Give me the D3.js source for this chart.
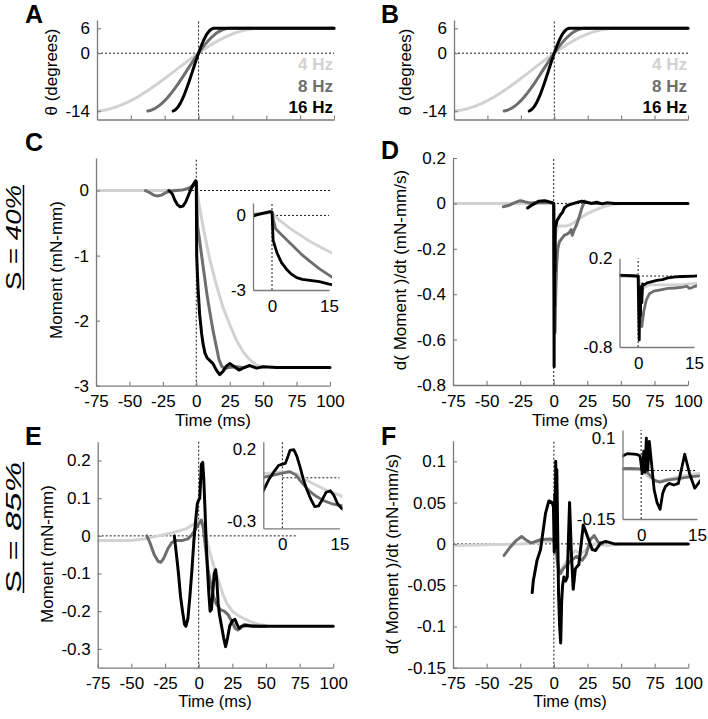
<!DOCTYPE html>
<html><head><meta charset="utf-8">
<script src="https://cdn.jsdelivr.net/npm/d3@7"></script>
<style>body{margin:0;background:#fff}</style>
</head><body><svg id="chart" width="708" height="719"></svg>
<script>
// ---------------- DATA ----------------
const freqLabels = ["4 Hz", "8 Hz", "16 Hz"];
const timeTicks = [-75, -50, -25, 0, 25, 50, 75, 100];
const insetTimeTicks = [0, 15];
const thetaTicks = [6, 0, -14];
const momentTicks40 = [0, -1, -2, -3];
const dMomentTicks40 = [0.2, 0, -0.2, -0.4, -0.6, -0.8];
const momentTicks85 = [0.2, 0.1, 0, -0.1, -0.2, -0.3];
const dMomentTicks85 = [0.1, 0.05, 0, -0.05, -0.1, -0.15];
const insetTicksC = [0, -3];
const insetTicksD = [0.2, -0.8];
const insetTicksE = [0.2, -0.3];
const insetTicksF = [0.1, -0.15];
const panelLetters = ["A", "B", "C", "D", "E", "F"];
const rowLabels = [["S = ", "40%"], ["S = ", "85%"]];

// joint angle θ (degrees) vs time (ms)
const theta4 = [[-75,-13.95],[-70,-13.75],[-65,-13.39],[-60,-12.88],[-55,-12.24],[-50,-11.46],[-45,-10.57],[-40,-9.57],[-35,-8.48],[-30,-7.33],[-25,-6.12],[-20,-4.88],[-15,-3.62],[-10,-2.38],[-5,-1.15],[0,0.02],[5,1.14],[10,2.18],[15,3.12],[20,3.95],[25,4.66],[30,5.2],[35,5.62],[40,5.89],[45,6],[100,6]];
const theta8 = [[-37.5,-13.95],[-35,-13.75],[-32.5,-13.39],[-30,-12.88],[-27.5,-12.24],[-25,-11.46],[-22.5,-10.57],[-20,-9.57],[-17.5,-8.48],[-15,-7.33],[-12.5,-6.12],[-10,-4.88],[-7.5,-3.62],[-5,-2.38],[-2.5,-1.15],[0,0.02],[2.5,1.14],[5,2.18],[7.5,3.12],[10,3.95],[12.5,4.66],[15,5.2],[17.5,5.62],[20,5.89],[22.5,6],[100,6]];
const theta16 = [[-18.75,-13.95],[-17.5,-13.75],[-16.25,-13.39],[-15,-12.88],[-13.75,-12.24],[-12.5,-11.46],[-11.25,-10.57],[-10,-9.57],[-8.75,-8.48],[-7.5,-7.33],[-6.25,-6.12],[-5,-4.88],[-3.75,-3.62],[-2.5,-2.38],[-1.25,-1.15],[0,0.02],[1.25,1.14],[2.5,2.18],[3.75,3.12],[5,3.95],[6.25,4.66],[7.5,5.2],[8.75,5.62],[10,5.89],[11.25,6],[100,6]];

// S = 40% : moment (mN-mm)
const moment40_4 = [[-75,0],[-50,0],[-25,0],[-10,0.01],[-3,0.05],[0,0.12],[1,-0.05],[2,-0.2],[5,-0.55],[10,-1.05],[15,-1.45],[20,-1.8],[25,-2.06],[30,-2.3],[35,-2.48],[40,-2.6],[45,-2.68],[50,-2.71]];
const moment40_8 = [[-38,0],[-35,-0.03],[-32,-0.07],[-29,-0.085],[-26,-0.07],[-23,-0.035],[-20,-0.01],[-15,0],[-10,0.01],[-5,0.04],[-2,0.09],[0,0.14],[0.4,-0.2],[1,-0.55],[3,-0.85],[5,-1.15],[8,-1.6],[10,-1.85],[12.5,-2.15],[15,-2.4],[17,-2.6],[19,-2.7],[21,-2.74],[24,-2.72],[30,-2.71],[35,-2.72]];
const moment40_16 = [[-20.5,0],[-18,-0.05],[-16,-0.15],[-14,-0.22],[-12,-0.25],[-10,-0.24],[-8,-0.18],[-6,-0.08],[-4,0.02],[-2,0.1],[-0.5,0.15],[0,0.13],[0.3,-1.0],[1.3,-1.5],[2.5,-1.9],[4,-2.2],[5,-2.35],[6.5,-2.5],[8,-2.57],[10,-2.61],[12.5,-2.66],[15,-2.76],[17.5,-2.83],[20,-2.78],[22.5,-2.7],[25,-2.66],[28,-2.7],[32,-2.76],[36,-2.72],[40,-2.69],[45,-2.73],[50,-2.71],[60,-2.72],[100,-2.72]];

// S = 40% : d(moment)/dt (mN-mm/s)
const dMoment40_4 = [[-75,0],[-50,0],[-25,0],[-10,0.002],[-2,0.003],[0,0],[0.5,-0.08],[1,-0.15],[2,-0.12],[3,-0.1],[5,-0.1],[8,-0.1],[10,-0.098],[12,-0.095],[15,-0.085],[18,-0.072],[21,-0.06],[25,-0.045],[30,-0.032],[35,-0.02],[40,-0.01],[45,-0.003],[50,0]];
const dMoment40_8 = [[-37.5,-0.015],[-33,-0.008],[-29,0.003],[-25,0.012],[-22,0.008],[-18,0.002],[-10,0.003],[-3,0.003],[0,0],[0.4,-0.3],[1,-0.57],[1.5,-0.4],[2.2,-0.27],[3,-0.2],[4.2,-0.17],[6,-0.155],[8,-0.14],[10,-0.135],[12,-0.125],[13,-0.115],[13.8,-0.14],[15,-0.12],[17,-0.095],[19,-0.06],[21,-0.02],[23,0.01],[25,0.005],[28,0],[35,0]];
const dMoment40_16 = [[-19.5,-0.02],[-17,-0.01],[-14,0],[-11,0.01],[-7,0.012],[-4,0.008],[-1,0.003],[0,0],[0.15,-0.4],[0.3,-0.72],[0.45,-0.2],[0.6,-0.45],[0.8,-0.12],[1,-0.3],[1.2,-0.09],[1.6,-0.1],[2.4,-0.076],[3.5,-0.065],[5,-0.05],[6.5,-0.04],[8,-0.02],[10,-0.01],[12,-0.005],[15,0],[18,0.005],[21,0.01],[24,0.005],[28,0],[32,0.005],[36,-0.002],[40,0.003],[45,0],[100,0]];

// S = 85% : moment (mN-mm)
const moment85_4 = [[-75,-0.012],[-50,-0.012],[-40,-0.008],[-30,0],[-20,0.008],[-10,0.018],[-5,0.028],[0,0.04],[2,0.04],[4,0.025],[6,-0.01],[8,-0.04],[10,-0.065],[12,-0.09],[15,-0.12],[18,-0.155],[21,-0.18],[25,-0.2],[30,-0.213],[35,-0.222],[40,-0.23],[45,-0.235],[50,-0.238]];
const moment85_8 = [[-38.5,0],[-36,-0.02],[-33,-0.05],[-30,-0.068],[-28,-0.07],[-26,-0.06],[-23,-0.035],[-20,-0.018],[-17,-0.012],[-12,-0.012],[-8,-0.008],[-5,0.003],[-2,0.02],[0,0.032],[2,0.042],[3.5,0.02],[5,-0.03],[7,-0.09],[9,-0.13],[11,-0.16],[13,-0.18],[16,-0.196],[19,-0.2],[22,-0.21],[25,-0.23],[27,-0.245],[29,-0.25],[31,-0.245],[34,-0.235],[38,-0.238],[45,-0.24],[50,-0.24]];
const moment85_16 = [[-18.1,0],[-16.5,-0.05],[-15,-0.1],[-13.5,-0.16],[-12,-0.2],[-10.5,-0.235],[-9.5,-0.24],[-8,-0.22],[-6.5,-0.16],[-5,-0.09],[-3.5,-0.01],[-2,0.05],[-1,0.085],[0,0.095],[0.8,0.1],[1.5,0.15],[2,0.19],[3,0.195],[3.8,0.15],[4.7,0.07],[5.5,-0.01],[6.4,-0.08],[7.5,-0.15],[8.5,-0.2],[9.5,-0.195],[10.5,-0.15],[11.5,-0.1],[12.6,-0.09],[13.5,-0.12],[14.5,-0.18],[15.5,-0.21],[17,-0.24],[18.5,-0.27],[20,-0.294],[21.5,-0.27],[23,-0.24],[25,-0.225],[27,-0.222],[28.5,-0.235],[30,-0.245],[32,-0.24],[35,-0.238],[40,-0.24],[100,-0.24]];

// S = 85% : d(moment)/dt (mN-mm/s)
const dMoment85_4 = [[-75,-0.002],[-50,-0.001],[-25,0],[-10,0.002],[-2,0.003],[0,0.002],[2,-0.02],[4,-0.035],[6,-0.03],[9,-0.022],[12,-0.015],[16,-0.008],[20,-0.012],[25,-0.006],[30,0],[40,-0.002],[50,0]];
const dMoment85_8 = [[-37,-0.014],[-33,-0.005],[-28,0.004],[-24,0.009],[-20,0.004],[-17,0.001],[-10,0.005],[-3,0.006],[0,0.005],[2,-0.01],[3.5,-0.03],[5,-0.036],[7,-0.03],[10,-0.025],[13,-0.02],[17,-0.015],[21,-0.02],[24,-0.013],[27,0.005],[30,0.01],[33,0.002],[36,0]];
const dMoment85_16 = [[-16.1,-0.059],[-15.3,-0.045],[-12.5,-0.02],[-9.9,-0.007],[-6.2,0.037],[-3.7,0.052],[-1.2,0.05],[-0.3,0.045],[0.3,-0.01],[0.7,0.06],[1.0,-0.005],[1.4,0.1],[1.8,0.0],[2.2,0.09],[2.9,0.01],[3.5,-0.06],[4.3,-0.1],[5.1,-0.12],[5.8,-0.07],[6.5,-0.05],[7.5,-0.04],[8.8,-0.045],[10,-0.04],[11.7,0.05],[13,-0.01],[14.4,-0.055],[16,-0.03],[18.6,-0.025],[21.9,0.023],[24.8,0.01],[28.6,-0.007],[31,-0.008],[34.8,0.001],[38.5,0.003],[45,0],[100,0]];

// ---------------- DRAWING ----------------
const svg = d3.select("#chart");
svg.append("rect").attr("width", 708).attr("height", 719).attr("fill", "#fff");
const FONT = "'Liberation Sans', Arial, Helvetica, sans-serif";
const COLORS = ["#d2d2d2", "#6e6e6e", "#000000"];
const AXIS = "#7a7a7a";
let clipN = 0;

function makePanel(o) {
  const x = d3.scaleLinear().domain(o.xDomain).range([o.left, o.right]);
  const y = d3.scaleLinear().domain(o.yDomain).range([o.bottom, o.top]);
  const cid = "cp" + (clipN++);
  svg.append("clipPath").attr("id", cid).append("rect")
    .attr("x", o.left).attr("y", o.top - 3)
    .attr("width", o.right - o.left + 3).attr("height", o.bottom - o.top + 4);
  const gz = svg.append("g").attr("fill", "none").attr("stroke", "#000")
    .attr("stroke-width", 0.9).attr("stroke-dasharray", "2,2");
  gz.append("line").attr("x1", x(o.hFrom !== undefined ? o.hFrom : o.xDomain[0]))
    .attr("x2", x(o.hTo !== undefined ? o.hTo : o.xDomain[1]))
    .attr("y1", y(0)).attr("y2", y(0));
  gz.append("line").attr("x1", x(0)).attr("x2", x(0))
    .attr("y1", y(o.yDomain[0])).attr("y2", y(o.yDomain[1]));
  const line = d3.line().x(d => x(d[0])).y(d => y(d[1]));
  const gs = svg.append("g").attr("clip-path", `url(#${cid})`);
  o.series.forEach((s, i) => gs.append("path").attr("d", line(s))
    .attr("fill", "none").attr("stroke", COLORS[i]).attr("stroke-width", o.lw || 3)
    .attr("stroke-linejoin", "round").attr("stroke-linecap", "round"));
  const ax = svg.append("g").attr("transform", `translate(0,${o.bottom})`)
    .call(d3.axisBottom(x).tickValues(o.xTicks).tickSizeInner(-o.tickLen).tickSizeOuter(0)
      .tickPadding(o.xPad).tickFormat(o.xLabels ? d => String(d) : () => ""));
  const ay = svg.append("g").attr("transform", `translate(${o.left},0)`)
    .call(d3.axisLeft(y).tickValues(o.yTicks).tickSizeInner(-o.tickLen).tickSizeOuter(0)
      .tickPadding(o.yPad).tickFormat(d => String(d)));
  [ax, ay].forEach(a => {
    a.attr("font-family", FONT).attr("font-size", o.fs);
    a.select(".domain").attr("stroke", AXIS).attr("stroke-width", 1.3);
    a.selectAll(".tick line").attr("stroke", AXIS).attr("stroke-width", 1.1);
    a.selectAll(".tick text").attr("fill", "#000");
  });
  return { x, y };
}

function label(txt, x, y, opts = {}) {
  const t = svg.append("text").attr("x", x).attr("y", y).attr("font-family", FONT)
    .attr("font-size", opts.fs || 17).attr("text-anchor", opts.anchor || "middle")
    .attr("fill", opts.fill || "#000").text(txt);
  if (opts.rotate) t.attr("transform", `rotate(-90,${x},${y})`);
  if (opts.central) t.attr("dominant-baseline", "central");
  if (opts.bold) t.attr("font-weight", "bold");
  return t;
}

const mainX = [-75, 100];
const insetX = [-5, 15];

// Row 1: theta
makePanel({ left: 97, right: 334, top: 20, bottom: 119.5, xDomain: mainX, yDomain: [-16, 8],
  xTicks: timeTicks, yTicks: thetaTicks, tickLen: 4, xPad: 9, yPad: 7, fs: 17, xLabels: false,
  series: [theta4, theta8, theta16] });
makePanel({ left: 454, right: 688, top: 20, bottom: 119.5, xDomain: mainX, yDomain: [-16, 8],
  xTicks: timeTicks, yTicks: thetaTicks, tickLen: 4, xPad: 9, yPad: 7, fs: 17, xLabels: false,
  series: [theta4, theta8, theta16] });

// Row 2: S = 40%
makePanel({ left: 96, right: 330, top: 158, bottom: 385.7, xDomain: mainX, yDomain: [-3, 0.5],
  xTicks: timeTicks, yTicks: momentTicks40, tickLen: 4, xPad: 9.5, yPad: 7, fs: 17, xLabels: true,
  series: [moment40_4, moment40_8, moment40_16] });
makePanel({ left: 253, right: 329, top: 203, bottom: 290, xDomain: insetX, yDomain: [-3, 0.5],
  xTicks: insetTimeTicks, yTicks: insetTicksC, tickLen: 0, xPad: 10, yPad: 7, fs: 17, xLabels: true,
  hFrom: 0, hTo: 15, lw: 2.8, series: [moment40_4, moment40_8, moment40_16] });
makePanel({ left: 453, right: 688, top: 158, bottom: 385, xDomain: mainX, yDomain: [-0.8, 0.2],
  xTicks: timeTicks, yTicks: dMomentTicks40, tickLen: 4, xPad: 9.5, yPad: 7, fs: 17, xLabels: true,
  series: [dMoment40_4, dMoment40_8, dMoment40_16] });
makePanel({ left: 619.5, right: 694, top: 258.3, bottom: 347, xDomain: insetX, yDomain: [-0.8, 0.2],
  xTicks: insetTimeTicks, yTicks: insetTicksD, tickLen: 0, xPad: 10, yPad: 7, fs: 17, xLabels: true,
  hFrom: 0, hTo: 15, lw: 2.8, series: [dMoment40_4, dMoment40_8, dMoment40_16] });

// Row 3: S = 85%
makePanel({ left: 97.7, right: 333.3, top: 441.7, bottom: 667.7, xDomain: mainX, yDomain: [-0.35, 0.25],
  xTicks: timeTicks, yTicks: momentTicks85, tickLen: 4, xPad: 9, yPad: 7, fs: 17, xLabels: true,
  hTo: 73, series: [moment85_4, moment85_8, moment85_16] });
makePanel({ left: 263.3, right: 339.5, top: 441.7, bottom: 528.3, xDomain: insetX, yDomain: [-0.35, 0.25],
  xTicks: insetTimeTicks, yTicks: insetTicksE, tickLen: 0, xPad: 10, yPad: 7, fs: 17, xLabels: true,
  hFrom: 0, hTo: 15, lw: 2.8, series: [moment85_4, moment85_8, moment85_16] });
makePanel({ left: 453, right: 688.3, top: 440.7, bottom: 667.7, xDomain: mainX, yDomain: [-0.15, 0.125],
  xTicks: timeTicks, yTicks: dMomentTicks85, tickLen: 4, xPad: 9, yPad: 7, fs: 17, xLabels: true,
  series: [dMoment85_4, dMoment85_8, dMoment85_16] });
makePanel({ left: 622.5, right: 697, top: 430, bottom: 519, xDomain: insetX, yDomain: [-0.15, 0.125],
  xTicks: insetTimeTicks, yTicks: insetTicksF, tickLen: 0, xPad: 10, yPad: 7, fs: 17, xLabels: true,
  hFrom: 0, hTo: 15, lw: 2.8, series: [dMoment85_4, dMoment85_8, dMoment85_16] });

// Legends
[333, 687].forEach(xr => {
  [70, 92, 113].forEach((yb, i) => label(freqLabels[i], xr, yb, { anchor: "end", bold: true, fill: COLORS[i], fs: 17 }));
});

// Axis titles
label("θ (degrees)", 51, 72, { rotate: true, central: true });
label("θ (degrees)", 405, 72, { rotate: true, central: true });
label("Moment (mN-mm)", 56, 270, { rotate: true, central: true });
label("d( Moment )/dt (mN-mm/s)", 400, 270, { rotate: true, central: true });
label("Moment (mN-mm)", 47, 554, { rotate: true, central: true });
label("d( Moment )/dt (mN-mm/s)", 392, 554, { rotate: true, central: true });
label("Time (ms)", 213, 420, { central: true });
label("Time (ms)", 570, 420, { central: true });
label("Time (ms)", 215, 701, { central: true, fs: 16.5 });
label("Time (ms)", 570, 701, { central: true, fs: 16.5 });

// Panel letters
[[25, 23], [381, 23], [25, 151], [381, 159], [25, 445], [381, 445]].forEach(([x, y], i) =>
  label(panelLetters[i], x, y, { anchor: "start", bold: true, fs: 25 }));

// Row labels (rotated, underlined)
[[237.5, 185, 290], [527.5, 462, 593]].forEach(([yc, y0, y1], i) => {
  const t = svg.append("text").attr("x", 21).attr("y", yc).attr("font-family", FONT)
    .attr("font-size", 22).attr("text-anchor", "middle")
    .attr("textLength", y1 - y0).attr("lengthAdjust", "spacingAndGlyphs")
    .attr("transform", `rotate(-90,21,${yc})`);
  t.append("tspan").text(rowLabels[i][0]);
  t.append("tspan").attr("font-style", "italic").text(rowLabels[i][1]);
  svg.append("line").attr("x1", 23.5).attr("x2", 23.5).attr("y1", y0).attr("y2", y1)
    .attr("stroke", "#000").attr("stroke-width", 1.5);
});
</script></body></html>
